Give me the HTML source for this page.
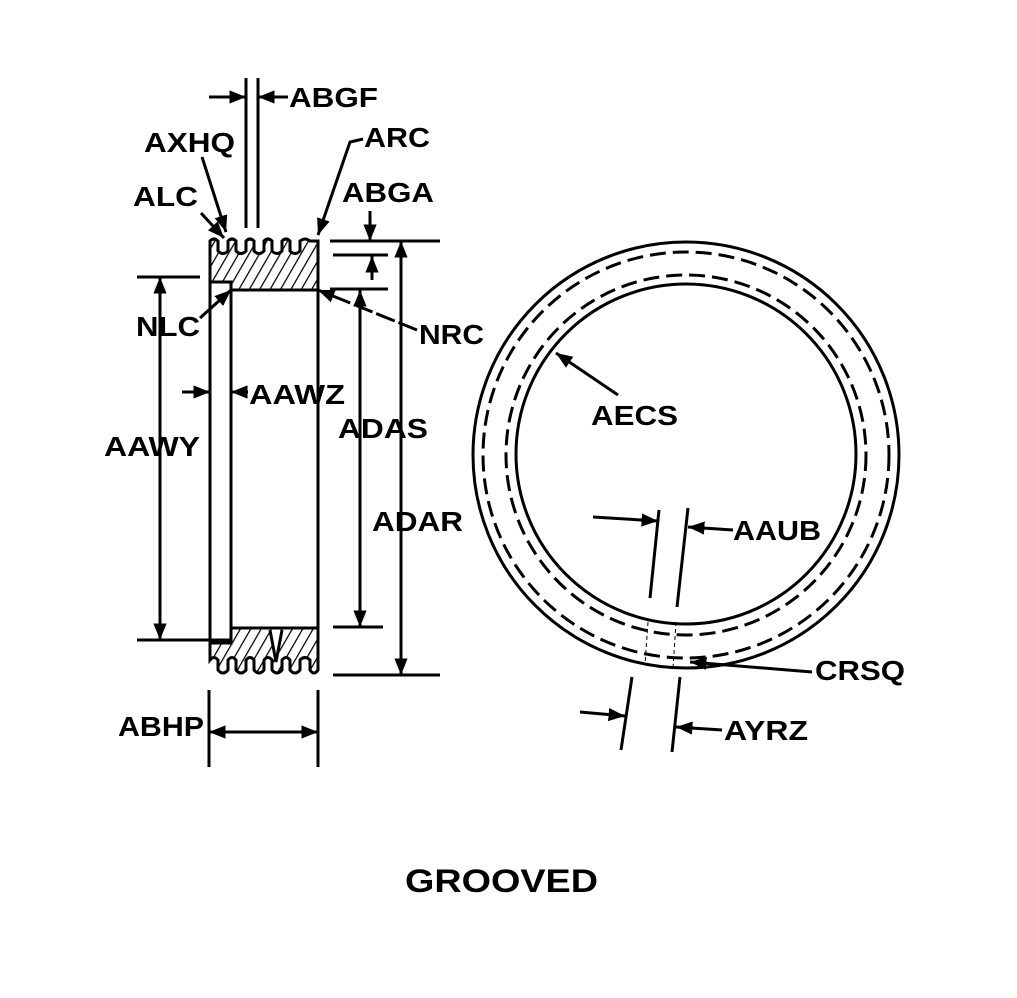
<!DOCTYPE html>
<html><head><style>
body{margin:0;background:#fff}
svg{display:block}
text{font-family:"Liberation Sans",Arial,sans-serif;font-weight:bold;font-size:28px;fill:#000}
</style></head><body>
<svg width="1017" height="998" viewBox="0 0 1017 998" xmlns="http://www.w3.org/2000/svg">
<defs>
<marker id="a" viewBox="0 0 10 10" refX="10" refY="5" markerWidth="5.5" markerHeight="5.5" orient="auto-start-reverse" markerUnits="strokeWidth"><path d="M0,1 L10,5 L0,9 z" fill="#000"/></marker>
<pattern id="h" width="9" height="9" patternUnits="userSpaceOnUse" patternTransform="rotate(30)"><rect width="9" height="9" fill="#fff"/><line x1="0" y1="0" x2="0" y2="9" stroke="#000" stroke-width="2.5"/></pattern>
</defs>
<g stroke="#000" stroke-width="3" fill="none">
<path d="M210,290 L210,241 Q214,237 218,241 L218,251 Q223,256 228,251 L228,241 Q232,237 236,241 L236,251 Q241,256 246,251 L246,241 Q250,237 254,241 L254,251 Q259,256 264,251 L264,241 Q268,237 272,241 L272,251 Q277,256 282,251 L282,241 Q286,237 290,241 L290,251 Q295,256 300,251 L300,241 Q305,237 310,241 L318,241 L318,290 L232,290 Q222,282 210,290 z" fill="url(#h)"/>
<rect x="210" y="282" width="21" height="358" fill="#fff"/>
<line x1="231" y1="290" x2="231" y2="630"/>
<line x1="318" y1="290" x2="318" y2="628"/>
<path d="M231,628 L318,628 L318,670 Q314,676 310,670 L310,660 Q305,655 300,660 L300,670 Q295,676 290,670 L290,660 Q286,655 282,660 L282,670 Q277,676 272,670 L272,660 Q268,655 264,660 L264,670 Q259,676 254,670 L254,660 Q250,655 246,660 L246,670 Q241,676 236,670 L236,660 Q232,655 228,660 L228,670 Q223,676 218,670 L218,660 Q214,655 210,660 L210,643 L231,643 z" fill="url(#h)"/>
<path d="M270,630 L276,662 L282,630" fill="#fff"/>
<line x1="246" y1="78" x2="246" y2="228"/>
<line x1="258" y1="78" x2="258" y2="228"/>
<line x1="209" y1="97" x2="246" y2="97" marker-end="url(#a)"/>
<line x1="288" y1="97" x2="258" y2="97" marker-end="url(#a)"/>
<line x1="201" y1="213" x2="224" y2="238" marker-end="url(#a)"/>
<line x1="202" y1="157" x2="226" y2="232" marker-end="url(#a)"/>
<path d="M363,139 L350,142 L318,235" marker-end="url(#a)"/>
<line x1="200" y1="318" x2="231" y2="290" marker-end="url(#a)"/>
<line x1="417" y1="330" x2="318" y2="290" marker-end="url(#a)" stroke-dasharray="20,4"/>
<line x1="330" y1="241" x2="440" y2="241"/>
<line x1="333" y1="255" x2="388" y2="255"/>
<line x1="330" y1="289" x2="388" y2="289"/>
<line x1="370" y1="211" x2="370" y2="241" marker-end="url(#a)"/>
<line x1="372" y1="280" x2="372" y2="256" marker-end="url(#a)"/>
<line x1="401" y1="241" x2="401" y2="675" marker-start="url(#a)" marker-end="url(#a)"/>
<line x1="333" y1="675" x2="440" y2="675"/>
<line x1="360" y1="290" x2="360" y2="627" marker-start="url(#a)" marker-end="url(#a)"/>
<line x1="333" y1="627" x2="383" y2="627"/>
<line x1="137" y1="277" x2="200" y2="277"/>
<line x1="137" y1="640" x2="210" y2="640"/>
<line x1="160" y1="277" x2="160" y2="640" marker-start="url(#a)" marker-end="url(#a)"/>
<line x1="182" y1="392" x2="210" y2="392" marker-end="url(#a)"/>
<line x1="248" y1="392" x2="231" y2="392" marker-end="url(#a)"/>
<line x1="209" y1="690" x2="209" y2="767"/>
<line x1="318" y1="690" x2="318" y2="767"/>
<line x1="209" y1="732" x2="318" y2="732" marker-start="url(#a)" marker-end="url(#a)"/>
<circle cx="686" cy="455" r="213"/>
<circle cx="686" cy="454" r="170"/>
<circle cx="686" cy="455" r="203" stroke-dasharray="16,7"/>
<circle cx="686" cy="455" r="180" stroke-dasharray="16,7"/>
<line x1="618" y1="395" x2="556" y2="353" marker-end="url(#a)"/>
<line x1="659" y1="510" x2="650" y2="598"/>
<line x1="688" y1="508" x2="677" y2="607"/>
<line x1="593" y1="517" x2="658" y2="521" marker-end="url(#a)"/>
<line x1="733" y1="530" x2="688" y2="527" marker-end="url(#a)"/>
<line x1="812" y1="672" x2="690" y2="662" marker-end="url(#a)"/>
<line x1="648" y1="622" x2="645" y2="665" stroke-width="1" stroke-dasharray="4,3"/>
<line x1="676" y1="622" x2="673" y2="668" stroke-width="1" stroke-dasharray="4,3"/>
<line x1="632" y1="677" x2="621" y2="750"/>
<line x1="680" y1="677" x2="672" y2="752"/>
<line x1="580" y1="712" x2="625" y2="716" marker-end="url(#a)"/>
<line x1="722" y1="730" x2="676" y2="727" marker-end="url(#a)"/>
</g>
<text x="289" y="107" textLength="89" lengthAdjust="spacingAndGlyphs">ABGF</text>
<text x="144" y="152" textLength="91" lengthAdjust="spacingAndGlyphs">AXHQ</text>
<text x="364" y="147" textLength="66" lengthAdjust="spacingAndGlyphs">ARC</text>
<text x="133" y="206" textLength="65" lengthAdjust="spacingAndGlyphs">ALC</text>
<text x="342" y="202" textLength="92" lengthAdjust="spacingAndGlyphs">ABGA</text>
<text x="136" y="336" textLength="64" lengthAdjust="spacingAndGlyphs">NLC</text>
<text x="419" y="344" textLength="65" lengthAdjust="spacingAndGlyphs">NRC</text>
<text x="249" y="404" textLength="96" lengthAdjust="spacingAndGlyphs">AAWZ</text>
<text x="104" y="456" textLength="96" lengthAdjust="spacingAndGlyphs">AAWY</text>
<text x="338" y="438" textLength="90" lengthAdjust="spacingAndGlyphs">ADAS</text>
<text x="372" y="531" textLength="91" lengthAdjust="spacingAndGlyphs">ADAR</text>
<text x="118" y="736" textLength="86" lengthAdjust="spacingAndGlyphs">ABHP</text>
<text x="591" y="425" textLength="87" lengthAdjust="spacingAndGlyphs">AECS</text>
<text x="733" y="540" textLength="88" lengthAdjust="spacingAndGlyphs">AAUB</text>
<text x="815" y="680" textLength="90" lengthAdjust="spacingAndGlyphs">CRSQ</text>
<text x="724" y="740" textLength="84" lengthAdjust="spacingAndGlyphs">AYRZ</text>
<text x="405" y="892" style="font-size:32px" textLength="193" lengthAdjust="spacingAndGlyphs">GROOVED</text>
</svg>
</body></html>
